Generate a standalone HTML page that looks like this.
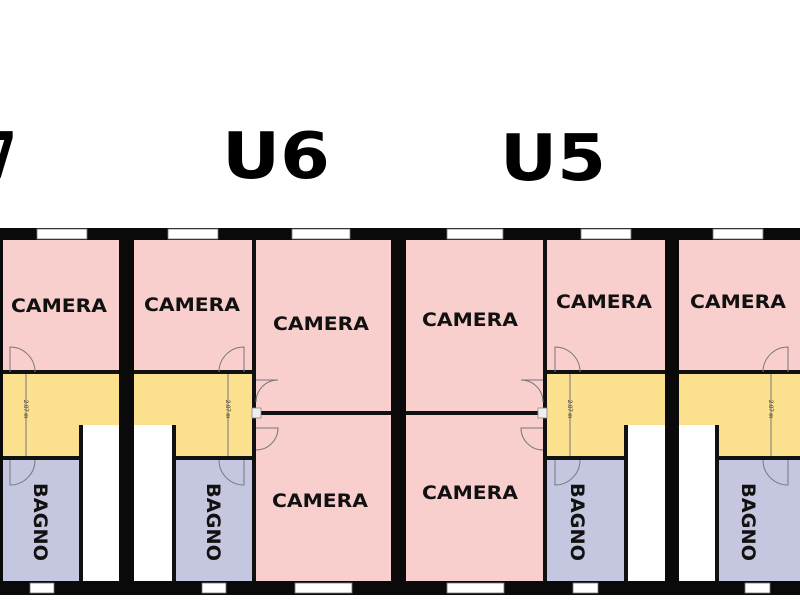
<!DOCTYPE html>
<html><head><meta charset="utf-8"><style>
html,body{margin:0;padding:0;background:#fff;width:800px;height:600px;overflow:hidden}
svg{display:block}
.l{font-family:"DejaVu Sans","Liberation Sans",sans-serif;font-weight:bold;fill:#111;font-size:19px}
.u{font-family:"DejaVu Sans","Liberation Sans",sans-serif;font-weight:bold;fill:#000;font-size:64px}
.d{font-family:"Liberation Sans",sans-serif;font-size:6px;fill:#333}
</style></head><body>
<svg width="800" height="600" viewBox="0 0 800 600" xmlns="http://www.w3.org/2000/svg">
<rect width="800" height="600" fill="#fff"/>
<text class="u" x="222" y="178" textLength="108" lengthAdjust="spacingAndGlyphs">U6</text>
<text class="u" x="500" y="180" textLength="106" lengthAdjust="spacingAndGlyphs">U5</text>
<text class="u" x="-48" y="178" textLength="64" lengthAdjust="spacingAndGlyphs">U7</text>
<g fill="#f9cfcd">
<rect x="0" y="238" width="120" height="136"/>
<rect x="133" y="238" width="121" height="136"/>
<rect x="254" y="238" width="138" height="346"/>
<rect x="406" y="238" width="139" height="346"/>
<rect x="545" y="238" width="122" height="136"/>
<rect x="678" y="238" width="122" height="136"/>
</g>
<g fill="#fbe08e">
<rect x="0" y="372" width="120" height="87"/>
<rect x="133" y="372" width="121" height="87"/>
<rect x="545" y="372" width="122" height="87"/>
<rect x="678" y="372" width="122" height="87"/>
</g>
<g fill="#c5c6e0">
<rect x="0" y="459" width="81" height="125"/>
<rect x="174" y="459" width="80" height="125"/>
<rect x="545" y="459" width="81" height="125"/>
<rect x="717" y="459" width="83" height="125"/>
</g>
<g fill="#fff">
<rect x="83" y="425" width="37" height="159"/>
<rect x="133" y="425" width="39" height="159"/>
<rect x="628" y="425" width="38" height="159"/>
<rect x="679" y="425" width="36" height="159"/>
</g>
<g fill="#0a0a0a">
<rect x="0" y="228" width="800" height="12"/>
<rect x="0" y="581" width="800" height="14"/>
<rect x="119" y="228" width="15" height="367"/>
<rect x="391" y="228" width="15" height="367"/>
<rect x="665" y="228" width="14" height="367"/>
<rect x="0" y="228" width="3" height="367"/>
</g>
<g fill="#111">
<rect x="3" y="370" width="116" height="4"/>
<rect x="134" y="370" width="120" height="4"/>
<rect x="252" y="240" width="4" height="341"/>
<rect x="256" y="411" width="135" height="4"/>
<rect x="406" y="411" width="137" height="4"/>
<rect x="543" y="240" width="4" height="341"/>
<rect x="547" y="370" width="118" height="4"/>
<rect x="679" y="370" width="121" height="4"/>
<rect x="3" y="456" width="80" height="4"/>
<rect x="172" y="456" width="82" height="4"/>
<rect x="547" y="456" width="81" height="4"/>
<rect x="715" y="456" width="85" height="4"/>
<rect x="79" y="425" width="4" height="156"/>
<rect x="172" y="425" width="4" height="156"/>
<rect x="624" y="425" width="4" height="156"/>
<rect x="715" y="425" width="4" height="156"/>
</g>
<g fill="#fff" stroke="#777" stroke-width="0.8">
<rect x="37" y="229" width="50" height="10"/>
<rect x="168" y="229" width="50" height="10"/>
<rect x="292" y="229" width="58" height="10"/>
<rect x="447" y="229" width="56" height="10"/>
<rect x="581" y="229" width="50" height="10"/>
<rect x="713" y="229" width="50" height="10"/>
<rect x="30" y="583" width="24" height="10"/>
<rect x="202" y="583" width="24" height="10"/>
<rect x="295" y="583" width="57" height="10"/>
<rect x="447" y="583" width="57" height="10"/>
<rect x="573" y="583" width="25" height="10"/>
<rect x="745" y="583" width="25" height="10"/>
</g>
<g fill="none" stroke="#777" stroke-width="1">
<path d="M10 372 V347 A25 25 0 0 1 35 372"/>
<path d="M244 372 V347 A25 25 0 0 0 219 372"/>
<path d="M10 460 V485 A25 25 0 0 0 35 460"/>
<path d="M244 460 V485 A25 25 0 0 1 219 460"/>
<path d="M256 380 H278 A22 22 0 0 0 256 402"/>
<path d="M256 428 H278 A22 22 0 0 1 256 450"/>
<path d="M543 380 H521 A22 22 0 0 1 543 402"/>
<path d="M543 428 H521 A22 22 0 0 0 543 450"/>
<path d="M555 372 V347 A25 25 0 0 1 580 372"/>
<path d="M555 460 V485 A25 25 0 0 0 580 460"/>
<path d="M788 372 V347 A25 25 0 0 0 763 372"/>
<path d="M788 460 V485 A25 25 0 0 1 763 460"/>
<line x1="26" y1="374" x2="26" y2="456"/>
<line x1="228" y1="374" x2="228" y2="456"/>
<line x1="570" y1="374" x2="570" y2="456"/>
<line x1="771" y1="374" x2="771" y2="456"/>
</g>
<g fill="#eee" stroke="#888" stroke-width="0.8">
<rect x="252" y="408" width="9" height="10"/>
<rect x="538" y="408" width="9" height="10"/>
</g>
<g class="d">
<text transform="translate(24,400) rotate(90)">2.07 m</text>
<text transform="translate(226,400) rotate(90)">2.07 m</text>
<text transform="translate(568,400) rotate(90)">2.07 m</text>
<text transform="translate(769,400) rotate(90)">2.07 m</text>
</g>
<g class="l" text-anchor="middle">
<text x="59" y="312" textLength="96" lengthAdjust="spacingAndGlyphs">CAMERA</text>
<text x="192" y="311" textLength="96" lengthAdjust="spacingAndGlyphs">CAMERA</text>
<text x="321" y="330" textLength="96" lengthAdjust="spacingAndGlyphs">CAMERA</text>
<text x="320" y="507" textLength="96" lengthAdjust="spacingAndGlyphs">CAMERA</text>
<text x="470" y="326" textLength="96" lengthAdjust="spacingAndGlyphs">CAMERA</text>
<text x="470" y="499" textLength="96" lengthAdjust="spacingAndGlyphs">CAMERA</text>
<text x="604" y="308" textLength="96" lengthAdjust="spacingAndGlyphs">CAMERA</text>
<text x="738" y="308" textLength="96" lengthAdjust="spacingAndGlyphs">CAMERA</text>
<text transform="translate(34,522) rotate(90)" textLength="78" lengthAdjust="spacingAndGlyphs">BAGNO</text>
<text transform="translate(207,522) rotate(90)" textLength="78" lengthAdjust="spacingAndGlyphs">BAGNO</text>
<text transform="translate(571,522) rotate(90)" textLength="78" lengthAdjust="spacingAndGlyphs">BAGNO</text>
<text transform="translate(742,522) rotate(90)" textLength="78" lengthAdjust="spacingAndGlyphs">BAGNO</text>
</g>
</svg>
</body></html>
